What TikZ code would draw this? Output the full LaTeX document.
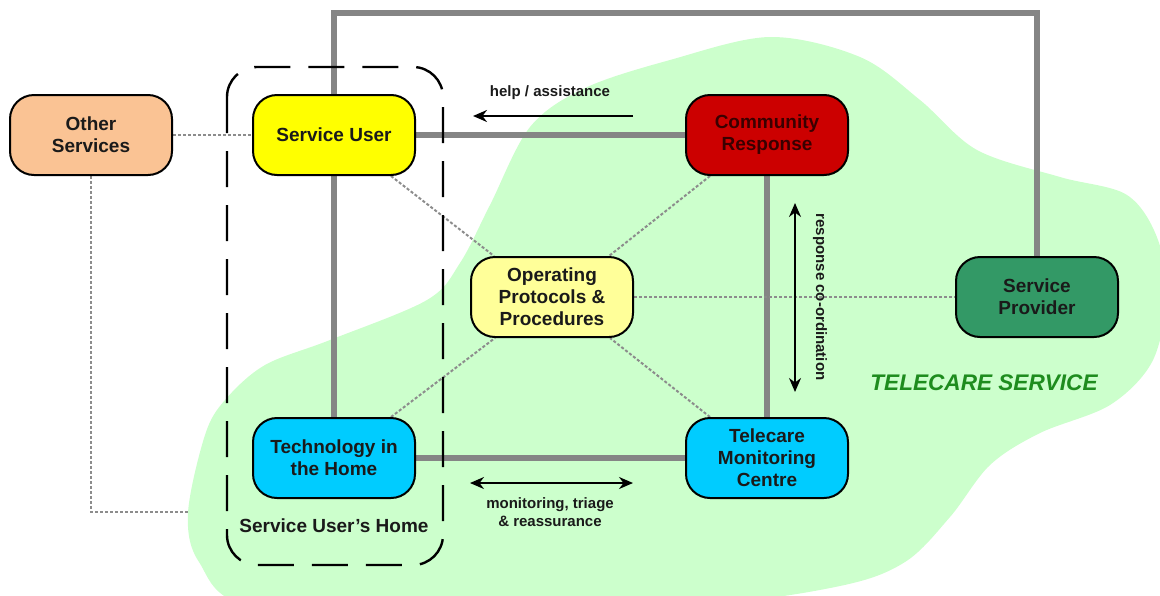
\documentclass[tikz,border=0pt]{standalone}
\usepackage{fontspec}
\setmainfont{Liberation Sans}
\usetikzlibrary{arrows.meta,calc}
\definecolor{blobgreen}{HTML}{CCFFCC}
\definecolor{linkgray}{HTML}{858585}
\definecolor{dotgray}{HTML}{8C8C8C}
\definecolor{txt}{HTML}{1A1A1A}
\definecolor{peach}{HTML}{FAC394}
\definecolor{suyellow}{HTML}{FFFF00}
\definecolor{opyellow}{HTML}{FFFF99}
\definecolor{crred}{HTML}{CC0000}
\definecolor{crtext}{HTML}{3A0000}
\definecolor{spgreen}{HTML}{339966}
\definecolor{cyanbox}{HTML}{00CCFF}
\definecolor{telegreen}{HTML}{1E8C1E}
\pgfdeclarelayer{blobs}
\pgfdeclarelayer{links}
\pgfsetlayers{blobs,links,main}
\begin{document}
\begin{tikzpicture}[x=0.5pt,y=-0.5pt,
  box/.style={draw=black, line width=1pt, rounded corners=12pt,
    minimum width=81pt, minimum height=40pt, inner sep=1pt, align=center,
    font=\fontsize{9.5}{11}\selectfont\bfseries, text=txt},
  link/.style={draw=linkgray, line width=3pt},
  dotlink/.style={draw=dotgray, line width=1pt, dash pattern=on 1.5pt off 1pt},
  lbl/.style={font=\fontsize{7.5}{8.7}\selectfont\bfseries, text=txt, align=center, inner sep=0pt},
  flow/.style={draw=black, line width=1pt},
  tipstyle/.tip={Stealth[length=7pt,width=6pt]}]
\useasboundingbox (0,0) rectangle (1160,595);
% nodes
\node[box, fill=peach]    (os) at (91,135)  {Other\\Services};
\node[box, fill=suyellow] (su) at (334,135) {Service User};
\node[box, fill=crred, text=crtext] (cr) at (767,135) {Community\\Response};
\node[box, fill=opyellow] (op) at (552,297) {Operating\\Protocols \&\\Procedures};
\node[box, fill=spgreen]  (sp) at (1037,297) {Service\\Provider};
\node[box, fill=cyanbox]  (th) at (334,458) {Technology in\\the Home};
\node[box, fill=cyanbox]  (tm) at (767,458) {Telecare\\Monitoring\\Centre};
\coordinate (ftl) at (334,13);
\coordinate (ftr) at (1037,13);
\coordinate (osb) at (91,512);
\coordinate (ose) at (188,512);
% telecare service region
\begin{pgfonlayer}{blobs}
\clip (0,0) rectangle (1160,595);
\fill[blobgreen] plot[smooth cycle, tension=0.55] coordinates {
 (770,37) (860,57) (920,100) (977,150) (1060,177) (1127,195) (1158,240)
 (1166,300) (1152,362) (1110,405) (1040,433) (990,465) (950,517) (905,562)
 (840,586) (700,605) (450,612) (250,606) (199,562) (188,513) (205,435)
 (225,400) (265,365) (330,340) (427,300) (460,263) (490,205) (530,127)
 (585,88) (670,60)};
\end{pgfonlayer}
% connectors
\begin{pgfonlayer}{links}
\draw[link, line join=miter] (su.north) -- (ftl) -- (ftr) -- (sp.north);
\draw[link] (su) -- (th);
\draw[link] (su) -- (cr);
\draw[link] (cr) -- (tm);
\draw[link] (th) -- (tm);
\draw[dotlink] (os) -- (su);
\draw[dotlink] (os.south) -- (osb) -- (ose);
\draw[dotlink] (op) -- (sp);
\draw[dotlink] ([xshift=-12.5pt]su.south east) -- ([xshift=12pt]op.north west);
\draw[dotlink] ([xshift=12.5pt]cr.south west) -- ([xshift=-12.5pt]op.north east);
\draw[dotlink] ([xshift=-12.5pt]th.north east) -- ([xshift=12.5pt]op.south west);
\draw[dotlink] ([xshift=12.5pt]tm.north west) -- ([xshift=-12pt]op.south east);
% service user's home
\draw[black, line width=1.2pt, dash pattern=on 18pt off 9pt, rounded corners=15pt]
  (227,67) rectangle (443,565);
\end{pgfonlayer}
\node[font=\fontsize{9.5}{11}\selectfont\bfseries, text=txt] (home) at (334,526) {Service User's Home};
% flow arrows
\coordinate (ha1) at (633,116);
\coordinate (ha2) at (473,116);
\draw[flow, -{tipstyle}] (ha1) -- (ha2);
\node[lbl] (hl) at (550,93) {help / assistance};
\coordinate (ra1) at (795,203);
\coordinate (ra2) at (795,392);
\draw[flow, {tipstyle}-{tipstyle}] (ra1) -- (ra2);
\node[lbl, rotate=-90] (rl) at (820,297) {response co-ordination};
\coordinate (ma1) at (470,483);
\coordinate (ma2) at (633,483);
\draw[flow, {tipstyle}-{tipstyle}] (ma1) -- (ma2);
\node[lbl] (ml) at (550,512) {monitoring, triage\\\& reassurance};
\node[font=\fontsize{11.3}{13}\selectfont\bfseries\itshape, text=telegreen] (ts) at (984,383) {TELECARE SERVICE};
\end{tikzpicture}
\end{document}
